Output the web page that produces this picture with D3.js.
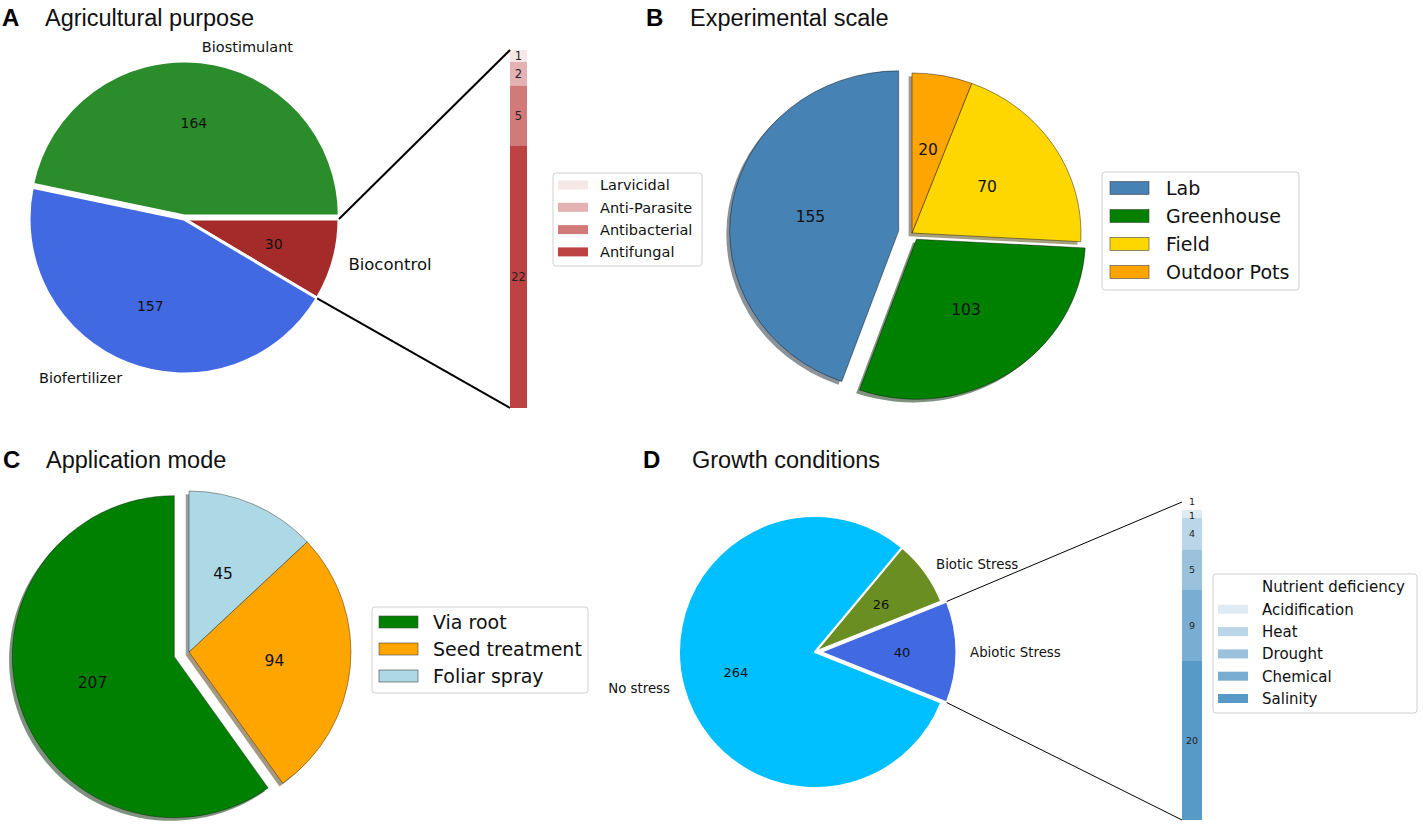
<!DOCTYPE html>
<html><head><meta charset="utf-8">
<script src="https://cdn.jsdelivr.net/npm/d3@7"></script>
<style>body{margin:0;background:#fff}</style>
</head><body><svg id="c" width="1423" height="827" xmlns="http://www.w3.org/2000/svg"></svg>
<script>
// ---------- data ----------
const purposeLabels = ["Biocontrol", "Biostimulant", "Biofertilizer"];
const purposeValues = [30, 164, 157];
const biocontrolLabels = ["Antifungal", "Antibacterial", "Anti-Parasite", "Larvicidal"];
const biocontrolValues = [22, 5, 2, 1];
const scaleLabels = ["Lab", "Greenhouse", "Field", "Outdoor Pots"];
const scaleValues = [155, 103, 70, 20];
const modeLabels = ["Via root", "Seed treatment", "Foliar spray"];
const modeValues = [207, 94, 45];
const growthLabels = ["Abiotic Stress", "Biotic Stress", "No stress"];
const growthValues = [40, 26, 264];
const abioticLabels = ["Salinity", "Chemical", "Drought", "Heat", "Acidification", "Nutrient deficiency"];
const abioticValues = [20, 9, 5, 4, 1, 1];

// ---------- styles ----------
const FONT = "'DejaVu Sans', sans-serif";
const TFONT = "'Liberation Sans', Arial, sans-serif";
const svg = d3.select("#c");
svg.append("rect").attr("width", 1423).attr("height", 827).attr("fill", "#fff");

function title(x, y, letter, text, tx) {
  svg.append("text").attr("x", x).attr("y", y).attr("font-family", TFONT).attr("font-weight", "bold")
    .attr("font-size", 24).text(letter);
  svg.append("text").attr("x", tx).attr("y", y).attr("font-family", TFONT)
    .attr("font-size", 23.5).attr("fill", "#111").text(text);
}

function drawPie(o) {
  const g = svg.append("g");
  const sa = (90 - o.start) * Math.PI / 180;
  const arcs = d3.pie().sort(null).value(d => d).startAngle(sa).endAngle(sa - 2 * Math.PI)(o.values);
  const arc = d3.arc().innerRadius(0).outerRadius(o.rx);
  const k = o.ry / o.rx;
  const off = arcs.map((a, i) => {
    const m = (a.startAngle + a.endAngle) / 2;
    const e = (o.explode && o.explode[i]) || 0;
    return { dx: e * o.rx * Math.sin(m), dy: -e * o.ry * Math.cos(m), m };
  });
  const pt = (i, ang, rho) => [o.cx + off[i].dx + rho * o.rx * Math.sin(ang), o.cy + off[i].dy - rho * o.ry * Math.cos(ang)];
  if (o.shadow) {
    arcs.forEach((a, i) => {
      const c = d3.rgb(o.colors[i]);
      g.append("path").attr("d", arc(a))
        .attr("transform", `translate(${o.cx + off[i].dx - 0.02 * o.rx},${o.cy + off[i].dy + 0.02 * o.ry}) scale(1,${k})`)
        .attr("fill", d3.rgb(c.r * 0.3, c.g * 0.3, c.b * 0.3)).attr("opacity", 0.5);
    });
  }
  arcs.forEach((a, i) => {
    g.append("path").attr("d", arc(a))
      .attr("transform", `translate(${o.cx + off[i].dx},${o.cy + off[i].dy}) scale(1,${k})`)
      .attr("fill", o.colors[i])
      .attr("stroke", o.stroke || "none").attr("stroke-width", o.strokeW || 0)
      .attr("stroke-opacity", o.strokeOp == null ? 1 : o.strokeOp)
      .attr("vector-effect", "non-scaling-stroke").attr("stroke-linejoin", "round");
  });
  arcs.forEach((a, i) => {
    const p = pt(i, off[i].m, o.pct);
    g.append("text").attr("x", p[0]).attr("y", p[1]).attr("text-anchor", "middle").attr("dy", "0.36em")
      .attr("font-family", FONT).attr("font-size", o.valFont).attr("fill", "#111").text(o.values[i]);
    if (o.labels) {
      const q = pt(i, off[i].m, 1.1);
      const sz = (o.labelFonts && o.labelFonts[i]) || o.labelFont;
      g.append("text").attr("x", q[0]).attr("y", q[1]).attr("dy", "0.36em")
        .attr("text-anchor", Math.sin(off[i].m) > 0 ? "start" : "end")
        .attr("font-family", FONT).attr("font-size", sz).attr("fill", "#111").text(o.labels[i]);
    }
  });
  return { arcs, pt };
}

function legend(o) {
  const g = svg.append("g");
  g.append("rect").attr("x", o.x).attr("y", o.y).attr("width", o.w).attr("height", o.h)
    .attr("rx", 3).attr("fill", "#fff").attr("stroke", "#d0d0d0").attr("stroke-width", 1);
  o.items.forEach((it, i) => {
    const y = o.y0 + i * o.step;
    if (it.color) {
      g.append("rect").attr("x", o.px).attr("y", y - o.ph / 2).attr("width", o.pw).attr("height", o.ph)
        .attr("fill", it.color).attr("fill-opacity", it.alpha == null ? 1 : it.alpha)
        .attr("stroke", o.pstroke || "none").attr("stroke-width", o.pstroke ? 0.6 : 0);
    }
    g.append("text").attr("x", o.tx).attr("y", y).attr("dy", "0.36em").attr("font-family", FONT)
      .attr("font-size", o.font).attr("fill", "#111").text(it.label);
  });
}

function stackBar(o) {
  const g = svg.append("g");
  const total = d3.sum(o.values);
  const y = d3.scaleLinear().domain([0, total]).range([o.y1, o.y0]);
  let acc = 0;
  o.values.forEach((v, i) => {
    const b = acc, t = acc + v; acc = t;
    g.append("rect").attr("x", o.x).attr("width", o.w).attr("y", y(t)).attr("height", y(b) - y(t))
      .attr("fill", o.color).attr("fill-opacity", o.alphas[i]);
    const nud = (o.nudge && o.nudge[i]) || 0;
    g.append("text").attr("x", o.x + o.w / 2).attr("y", (y(b) + y(t)) / 2 + nud).attr("dy", "0.36em")
      .attr("text-anchor", "middle").attr("font-family", FONT).attr("font-size", o.font).attr("fill", "#222").text(v);
  });
  return y;
}

function line(a, b, w) {
  svg.append("line").attr("x1", a[0]).attr("y1", a[1]).attr("x2", b[0]).attr("y2", b[1])
    .attr("stroke", "#000").attr("stroke-width", w);
}

// ---------- Panel A ----------
title(2, 26, "A", "Agricultural purpose", 45);
const purposeColors = ["brown", "#2a8c2a", "royalblue"];
const pA = drawPie({
  values: purposeValues, colors: purposeColors, labels: purposeLabels,
  cx: 184, cy: 219, rx: 155, ry: 155,
  start: -360 * purposeValues[0] / d3.sum(purposeValues),
  explode: [0, 0.02, 0], stroke: "#fff", strokeW: 3,
  pct: 0.6, valFont: 14, labelFont: 14.5, labelFonts: [16.5, 14.5, 14.5]
});
const barAx = 510, barAw = 17, barAtop = 50, barAbot = 408;
const alphaA = biocontrolValues.map((v, i) => 0.1 + 0.25 * (biocontrolValues.length - 1 - i));
stackBar({ values: biocontrolValues, x: barAx, w: barAw, y0: barAtop, y1: barAbot, color: "firebrick", alphas: alphaA, font: 11.5 });
const ra = pA.arcs[0];
line(pA.pt(0, ra.endAngle, 1), [barAx, barAtop], 2);
line(pA.pt(0, ra.startAngle, 1), [barAx, barAbot], 2);
legend({
  x: 553, y: 173, w: 149, h: 93, y0: 185, step: 22.3, px: 558, pw: 30, ph: 9, tx: 600, font: 14.5,
  items: biocontrolLabels.map((l, i) => ({ label: l, color: "firebrick", alpha: alphaA[i] })).reverse()
});

// ---------- Panel B ----------
title(646, 26, "B", "Experimental scale", 690);
const scaleColors = ["steelblue", "green", "gold", "orange"];
drawPie({
  values: scaleValues, colors: scaleColors, labels: null,
  cx: 912, cy: 233, rx: 169, ry: 160, start: 90,
  explode: [0.08, 0.047, 0, 0], shadow: true, stroke: "#000", strokeW: 0.6, strokeOp: 0.7,
  pct: 0.53, valFont: 15.5
});
legend({
  x: 1102, y: 172, w: 197, h: 118, y0: 188, step: 28, px: 1110, pw: 39, ph: 13, tx: 1166, font: 19,
  pstroke: "#444",
  items: scaleLabels.map((l, i) => ({ label: l, color: scaleColors[i] }))
});

// ---------- Panel C ----------
title(3, 468, "C", "Application mode", 46);
const modeColors = ["green", "orange", "lightblue"];
drawPie({
  values: modeValues, colors: modeColors, labels: null,
  cx: 189, cy: 652, rx: 162, ry: 161, start: 90,
  explode: [0.095, 0, 0], shadow: true, stroke: "#000", strokeW: 0.6, strokeOp: 0.6,
  pct: 0.53, valFont: 15.5
});
legend({
  x: 372, y: 607, w: 216, h: 86, y0: 622, step: 27, px: 379, pw: 39, ph: 12, tx: 433, font: 19,
  pstroke: "#444",
  items: modeLabels.map((l, i) => ({ label: l, color: modeColors[i] }))
});

// ---------- Panel D ----------
title(643, 468, "D", "Growth conditions", 692);
const growthColors = ["royalblue", "olivedrab", "deepskyblue"];
const pD = drawPie({
  values: growthValues, colors: growthColors, labels: growthLabels,
  cx: 815, cy: 652, rx: 136, ry: 136,
  start: -180 * growthValues[0] / d3.sum(growthValues),
  explode: [0.04, 0, 0], stroke: "#fff", strokeW: 2,
  pct: 0.6, valFont: 13, labelFont: 13.3
});
const barDx = 1182, barDw = 20, barDtop = 502, barDbot = 820;
const alphaD = abioticValues.map((v, i) => 0.15 * (abioticValues.length - 1 - i));
stackBar({ values: abioticValues, x: barDx, w: barDw, y0: barDtop, y1: barDbot, color: "#1f77b4", alphas: alphaD, font: 9.5,
  nudge: [0, 0, 0, 0, 1.5, -4] });
const da = pD.arcs[0];
line(pD.pt(0, da.endAngle, 1), [barDx, barDtop], 1);
line(pD.pt(0, da.startAngle, 1), [barDx, barDbot], 1);
legend({
  x: 1213, y: 574, w: 204, h: 139, y0: 587, step: 22.3, px: 1218, pw: 30, ph: 9, tx: 1262, font: 15,
  items: abioticLabels.map((l, i) => ({ label: l, color: "#1f77b4", alpha: alphaD[i] })).reverse()
});
</script></body></html>
